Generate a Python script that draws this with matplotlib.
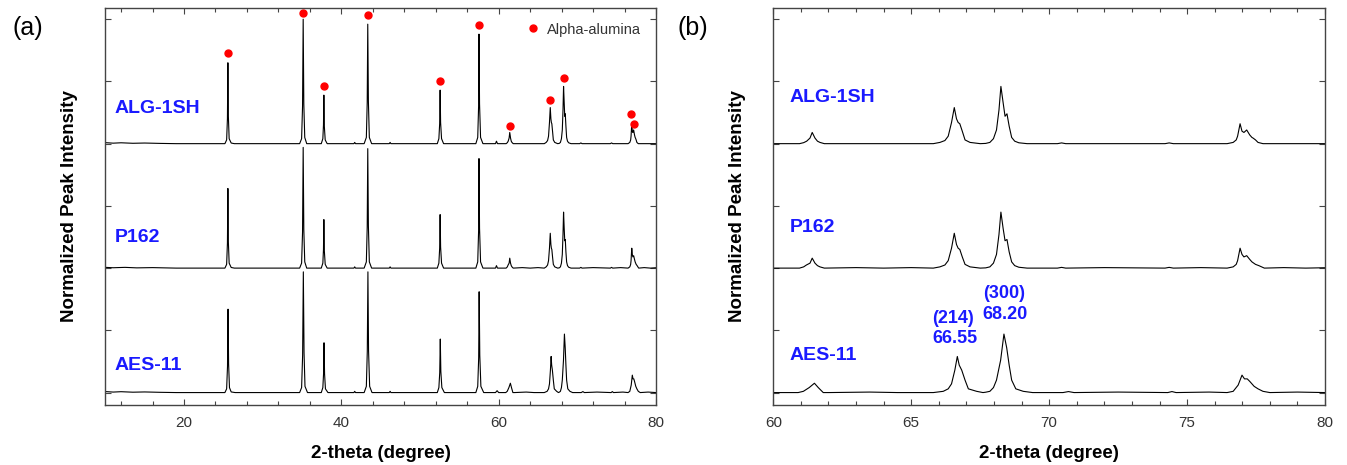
import numpy as np
import matplotlib
matplotlib.use("Agg")
import matplotlib.pyplot as plt
from matplotlib.ticker import MultipleLocator, NullFormatter

plt.rcParams["font.family"] = ["Liberation Sans", "DejaVu Sans"]

# XRD patterns (2-theta in degree, normalized intensity)
alg_x = [10.0, 11.0, 12.0, 13.5, 15.0, 17.0, 19.0,
         25.2, 25.42, 25.52, 25.58, 25.64, 25.74, 26.0, 26.4,
         34.7, 34.95, 35.07, 35.15, 35.23, 35.35, 35.6,
         37.45, 37.65, 37.73, 37.78, 37.84, 37.95, 38.2,
         41.6, 41.7, 41.8,
         42.9, 43.18, 43.29, 43.36, 43.44, 43.56, 43.85,
         46.1, 46.2, 46.3,
         52.2, 52.4, 52.5, 52.56, 52.62, 52.74, 53.0,
         57.1, 57.34, 57.45, 57.5, 57.57, 57.7, 58.0,
         59.6, 59.72, 59.85,
         60.95, 61.1, 61.21, 61.33, 61.41, 61.51, 61.6, 61.69, 61.85,
         65.8, 66.04, 66.22, 66.34, 66.46, 66.56, 66.64, 66.7, 66.76, 66.85, 66.95, 67.13, 67.5,
         67.7, 67.85, 67.98, 68.09, 68.18, 68.25, 68.33, 68.4, 68.47, 68.55, 68.64, 68.75, 68.9, 69.2,
         70.3, 70.45, 70.6,
         74.2, 74.35, 74.5,
         76.45, 76.67, 76.78, 76.83, 76.92, 76.99, 77.06, 77.16, 77.27, 77.35, 77.39, 77.48, 77.57, 77.75,
         80.0]
alg_y = [0.008, 0.004, 0.007, 0.003, 0.005, 0.002, 0.0,
         0.0, 0.03, 0.2, 0.65, 0.22, 0.04, 0.005, 0.0,
         0.0, 0.04, 0.3, 1.0, 0.32, 0.05, 0.0,
         0.0, 0.04, 0.15, 0.39, 0.14, 0.03, 0.0,
         0.0, 0.01, 0.0,
         0.0, 0.05, 0.33, 0.96, 0.34, 0.05, 0.0,
         0.0, 0.01, 0.0,
         0.0, 0.04, 0.16, 0.43, 0.17, 0.04, 0.0,
         0.0, 0.05, 0.3, 0.88, 0.32, 0.05, 0.0,
         0.0, 0.02, 0.0,
         0.0, 0.008, 0.02, 0.045, 0.09, 0.045, 0.02, 0.01, 0.0,
         0.0, 0.01, 0.025, 0.06, 0.17, 0.29, 0.2, 0.17, 0.16, 0.1, 0.03, 0.01, 0.0,
         0.002, 0.01, 0.04, 0.11, 0.27, 0.46, 0.33, 0.22, 0.24, 0.14, 0.05, 0.02, 0.007, 0.0,
         0.0, 0.006, 0.0,
         0.0, 0.006, 0.0,
         0.0, 0.01, 0.03, 0.06, 0.16, 0.1, 0.09, 0.11, 0.07, 0.05, 0.045, 0.03, 0.01, 0.0,
         0.0]

p162_x = [10.0, 11.0, 12.5, 14.0, 16.0, 19.0,
          25.2, 25.42, 25.52, 25.58, 25.64, 25.74, 26.0, 26.4,
          34.7, 34.95, 35.07, 35.15, 35.23, 35.35, 35.6,
          37.45, 37.65, 37.73, 37.78, 37.84, 37.95, 38.2,
          41.6, 41.7, 41.8,
          42.9, 43.18, 43.29, 43.36, 43.44, 43.56, 43.85,
          46.1, 46.2, 46.3,
          52.2, 52.4, 52.5, 52.56, 52.62, 52.74, 53.0,
          57.1, 57.34, 57.45, 57.5, 57.57, 57.7, 58.0,
          59.6, 59.72, 59.85,
          60.95, 61.1, 61.2, 61.33, 61.41, 61.51, 61.6, 61.69, 61.85,
          63.0, 64.0, 65.0,
          65.8, 66.04, 66.22, 66.34, 66.46, 66.56, 66.64, 66.7, 66.76, 66.85, 66.95, 67.13, 67.5,
          67.7, 67.85, 67.98, 68.09, 68.18, 68.25, 68.33, 68.4, 68.47, 68.55, 68.64, 68.75, 68.9, 69.2,
          70.3, 70.45, 70.6, 72.0,
          74.2, 74.35, 74.5, 75.5,
          76.45, 76.67, 76.78, 76.83, 76.92, 76.99, 77.06, 77.16, 77.27, 77.35, 77.48, 77.6, 77.8,
          78.5, 79.3, 80.0]
p162_y = [0.006, 0.003, 0.006, 0.002, 0.004, 0.0,
          0.0, 0.03, 0.2, 0.64, 0.21, 0.04, 0.005, 0.0,
          0.0, 0.04, 0.29, 0.97, 0.31, 0.05, 0.0,
          0.0, 0.04, 0.15, 0.39, 0.14, 0.03, 0.0,
          0.0, 0.01, 0.0,
          0.0, 0.05, 0.33, 0.96, 0.34, 0.05, 0.0,
          0.0, 0.01, 0.0,
          0.0, 0.04, 0.16, 0.43, 0.17, 0.04, 0.0,
          0.0, 0.05, 0.3, 0.88, 0.32, 0.05, 0.0,
          0.0, 0.02, 0.0,
          0.0, 0.01, 0.025, 0.04, 0.08, 0.04, 0.02, 0.01, 0.0,
          0.004, 0.0, 0.004,
          0.0, 0.01, 0.025, 0.06, 0.16, 0.28, 0.19, 0.16, 0.15, 0.09, 0.03, 0.01, 0.0,
          0.002, 0.01, 0.04, 0.11, 0.27, 0.45, 0.32, 0.22, 0.23, 0.13, 0.05, 0.02, 0.007, 0.0,
          0.0, 0.006, 0.0, 0.004,
          0.0, 0.006, 0.0, 0.004,
          0.0, 0.01, 0.03, 0.06, 0.16, 0.11, 0.09, 0.1, 0.07, 0.05, 0.03, 0.02, 0.0,
          0.004, 0.0, 0.003]

aes_x = [10.0, 11.0, 12.0, 13.5, 15.0, 17.0, 19.0,
         25.2, 25.42, 25.53, 25.6, 25.67, 25.78, 26.0, 26.5,
         34.7, 34.95, 35.08, 35.17, 35.26, 35.38, 35.7,
         37.45, 37.65, 37.74, 37.8, 37.87, 37.98, 38.3,
         41.6, 41.7, 41.8,
         42.9, 43.18, 43.3, 43.38, 43.46, 43.6, 43.9,
         46.1, 46.2, 46.3,
         52.2, 52.4, 52.51, 52.58, 52.65, 52.78, 53.1,
         57.1, 57.34, 57.46, 57.52, 57.6, 57.74, 58.1,
         59.6, 59.8, 60.0,
         60.9, 61.09, 61.3, 61.49, 61.63, 61.81, 62.0,
         63.5, 64.5,
         65.8, 66.16, 66.34, 66.46, 66.58, 66.67, 66.74, 66.83, 66.95, 67.07, 67.37, 67.6,
         67.7, 67.85, 67.98, 68.09, 68.24, 68.36, 68.46, 68.55, 68.64, 68.79, 69.06, 69.4,
         70.5, 70.7, 70.9, 72.5,
         74.3, 74.45, 74.6, 75.8,
         76.45, 76.67, 76.85, 76.99, 77.08, 77.18, 77.27, 77.43, 77.57, 77.75, 78.0,
         79.0, 80.0]
aes_y = [0.008, 0.004, 0.007, 0.003, 0.005, 0.002, 0.0,
         0.0, 0.03, 0.21, 0.67, 0.23, 0.04, 0.005, 0.0,
         0.0, 0.04, 0.3, 0.97, 0.32, 0.05, 0.0,
         0.0, 0.04, 0.15, 0.4, 0.15, 0.03, 0.0,
         0.0, 0.01, 0.0,
         0.0, 0.05, 0.33, 0.97, 0.34, 0.05, 0.0,
         0.0, 0.01, 0.0,
         0.0, 0.04, 0.16, 0.43, 0.17, 0.04, 0.0,
         0.0, 0.05, 0.28, 0.81, 0.3, 0.05, 0.0,
         0.0, 0.015, 0.0,
         0.0, 0.01, 0.04, 0.075, 0.04, 0.0, 0.0,
         0.004, 0.0,
         0.0, 0.01, 0.03, 0.07, 0.18, 0.29, 0.22, 0.18, 0.1, 0.03, 0.01, 0.0,
         0.003, 0.01, 0.04, 0.1, 0.26, 0.47, 0.36, 0.22, 0.1, 0.03, 0.01, 0.0,
         0.0, 0.008, 0.0, 0.004,
         0.0, 0.008, 0.0, 0.004,
         0.0, 0.01, 0.06, 0.14, 0.11, 0.11, 0.09, 0.05, 0.03, 0.01, 0.0,
         0.004, 0.0]

samples = ["ALG-1SH", "P162", "AES-11"]
offsets = [2, 1, 0]

# alpha-alumina markers over the ALG-1SH pattern in panel (a)
alpha_x = [25.58, 35.15, 37.78, 43.36, 52.56, 57.5, 61.41, 66.52, 68.25, 76.87, 77.23]
alpha_y = [2.73, 3.05, 2.46, 3.03, 2.50, 2.95, 2.14, 2.35, 2.53, 2.24, 2.16]

fig = plt.figure(figsize=(13.47, 4.65), dpi=100)
ax_a = fig.add_axes([0.0782, 0.129, 0.4088, 0.8538])
ax_b = fig.add_axes([0.5741, 0.129, 0.4096, 0.8538])

curves = [(alg_x, alg_y), (p162_x, p162_y), (aes_x, aes_y)]

for ax in (ax_a, ax_b):
    for (xs, ys), off in zip(curves, offsets):
        ax.plot(xs, np.array(ys) + off, color="black", lw=0.8)
    ax.set_ylim(-0.1, 3.09)
    ax.yaxis.set_major_locator(MultipleLocator(0.5))
    ax.yaxis.set_major_formatter(NullFormatter())
    ax.tick_params(which="both", direction="in", top=True, right=True,
                   color="#444444", width=0.8, labelsize=11, labelcolor="#333333",
                   pad=8)
    ax.tick_params(which="major", length=4)
    ax.tick_params(which="minor", length=3)
    for s in ax.spines.values():
        s.set_color("#444444")
        s.set_linewidth(1.0)
    ax.set_xlabel("2-theta (degree)", fontsize=13.5, fontweight="bold", labelpad=11)
    ax.set_ylabel("Normalized Peak Intensity", fontsize=13.5, fontweight="bold", labelpad=12)

ax_a.set_xlim(10, 80)
ax_a.xaxis.set_major_locator(MultipleLocator(20))
ax_a.xaxis.set_minor_locator(MultipleLocator(4))
ax_b.set_xlim(60, 80)
ax_b.xaxis.set_major_locator(MultipleLocator(5))
ax_b.xaxis.set_minor_locator(MultipleLocator(1))

ax_a.plot(alpha_x, alpha_y, "o", color="red", ms=5, label="Alpha-alumina")
ax_a.legend(loc="upper right", bbox_to_anchor=(1.0, 1.0), frameon=False,
            fontsize=10.5, handlelength=1.4, handletextpad=0.3, borderaxespad=0.6,
            markerscale=1.0, labelcolor="#333333")

blue = "#1a1aff"
for name, y in zip(samples, [2.28, 1.245, 0.22]):
    ax_a.text(11.2, y, name, color=blue, fontsize=14, fontweight="bold", va="center")
for name, y in zip(samples, [2.37, 1.33, 0.30]):
    ax_b.text(60.6, y, name, color=blue, fontsize=14, fontweight="bold", va="center")

ax_b.text(65.77, 0.515, "(214)\n66.55", color=blue, fontsize=13, fontweight="bold",
          va="center", linespacing=1.3)
ax_b.text(67.59, 0.715, "(300)\n68.20", color=blue, fontsize=13, fontweight="bold",
          va="center", linespacing=1.3)

fig.text(0.009, 0.94, "(a)", fontsize=18, va="center")
fig.text(0.503, 0.94, "(b)", fontsize=18, va="center")

fig.savefig("out.png", dpi=100)
